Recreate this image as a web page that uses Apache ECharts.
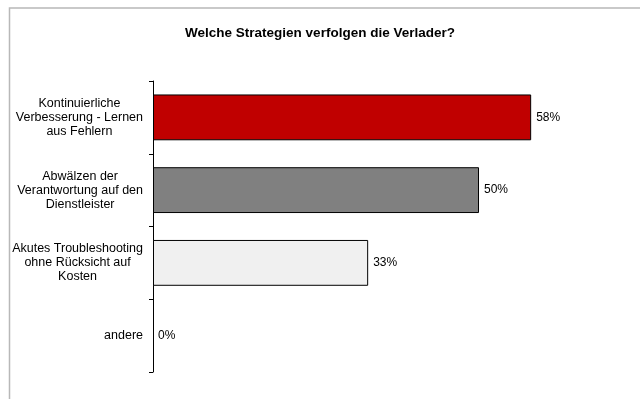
<!DOCTYPE html>
<html>
<head>
<meta charset="utf-8">
<script src="https://cdn.jsdelivr.net/npm/echarts@6/dist/echarts.min.js"></script>
<style>
  html, body { margin: 0; padding: 0; background: #fff; }
  #chart { width: 640px; height: 399px; }
</style>
</head>
<body>
<div id="chart"></div>
<script>
// Survey answers, top to bottom
const categories = [
  'Kontinuierliche\nVerbesserung - Lernen\naus Fehlern',
  'Abwälzen der\nVerantwortung auf den\nDienstleister',
  'Akutes Troubleshooting\nohne Rücksicht auf\nKosten',
  'andere'
];
const values = [58, 50, 33, 0];           // percent
const barColors = ['#c00000', '#808080', '#f0f0f0', '#f0f0f0'];

const chart = echarts.init(document.getElementById('chart'), null, { renderer: 'canvas' });

const font = 'Liberation Sans, Arial, sans-serif';

chart.setOption({
  animation: false,
  backgroundColor: '#ffffff',
  title: {
    text: 'Welche Strategien verfolgen die Verlader?',
    left: 'center',
    top: 21,
    textStyle: { fontFamily: font, fontSize: 13.5, fontWeight: 'bold', color: '#000' }
  },
  graphic: [{
    type: 'rect',
    shape: { x: 9.5, y: 8, width: 800, height: 600 },
    style: { fill: 'none', stroke: '#b8b8b8', lineWidth: 1.5 },
    silent: true
  }],
  grid: { left: 153, right: 30.6, top: 81, bottom: 27 },
  xAxis: {
    type: 'value',
    min: 0,
    max: 70,
    show: false
  },
  yAxis: {
    type: 'category',
    inverse: true,
    data: categories,
    axisLine: { show: true, lineStyle: { color: '#000', width: 1 } },
    axisTick: { show: true, inside: false, length: 4, lineStyle: { color: '#000', width: 1 } },
    axisLabel: {
      margin: 10,
      align: 'right',
      color: '#000',
      formatter: function (v) {
        return v.split('\n').map(function (l) { return '{c|' + l + '}'; }).join('\n');
      },
      rich: {
        c: { align: 'center', fontFamily: font, fontSize: 12.5, lineHeight: 14, color: '#000' }
      }
    }
  },
  series: [{
    type: 'bar',
    data: values.map(function (v, i) {
      return {
        value: v,
        itemStyle: { color: barColors[i], borderWidth: v === 0 ? 0 : 1 }
      };
    }),
    barCategoryGap: '37%',
    itemStyle: { borderColor: '#000', borderWidth: 1 },
    label: {
      show: true,
      position: 'right',
      distance: 5,
      formatter: '{c}%',
      fontFamily: font,
      fontSize: 12,
      color: '#000'
    }
  }]
});
</script>
</body>
</html>
